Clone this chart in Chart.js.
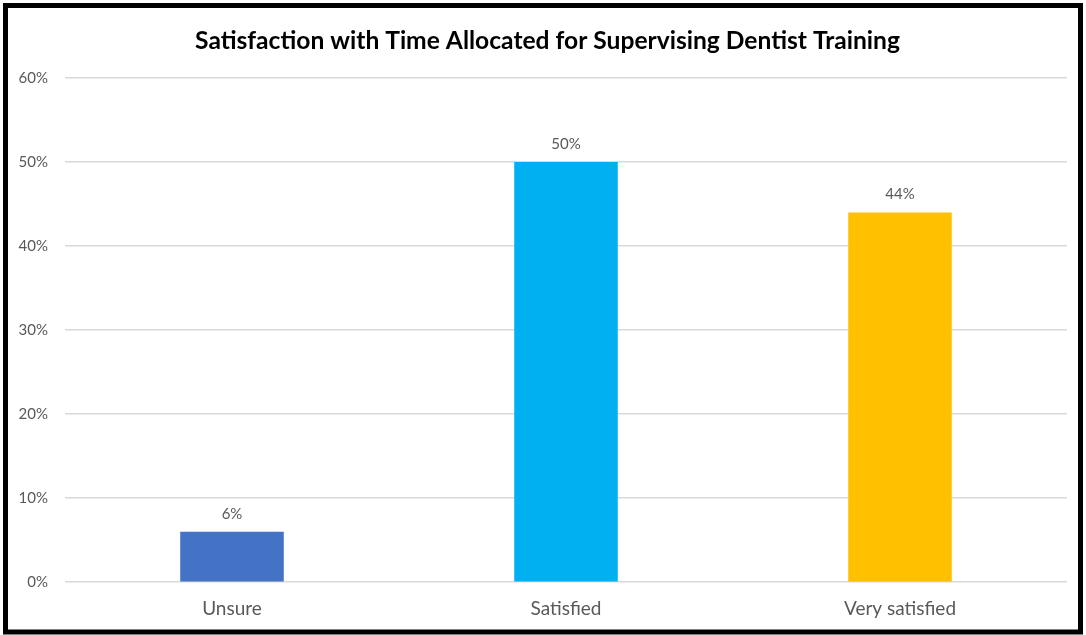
<!DOCTYPE html>
<html>
<head>
<meta charset="utf-8">
<script src="https://cdn.jsdelivr.net/npm/chart.js@4"></script>
<style>
  html, body { margin: 0; padding: 0; background: #fff; }
  #wrap { position: relative; width: 1086px; height: 635px; }
</style>
</head>
<body>
<div id="wrap"><canvas id="chart" width="1086" height="635"></canvas></div>
<script>
const categories = ['Unsure', 'Satisfied', 'Very satisfied'];
const shares = [6, 50, 44];
const barColors = ['#4472C4', '#00B0F0', '#FFC000'];
const yTicks = [0, 10, 20, 30, 40, 50, 60];
const chartTitle = 'Satisfaction with Time Allocated for Supervising Dentist Training';

const FONT = 'Lato, "Open Sans", "Liberation Sans", sans-serif';

// white background, heading, and black frame around the whole figure
const framePlugin = {
  id: 'frame',
  beforeDraw(chart) {
    const c = chart.ctx;
    c.save();
    c.fillStyle = '#fff';
    c.fillRect(0, 0, chart.width, chart.height);
    c.restore();
  },
  afterDraw(chart) {
    const c = chart.ctx;
    c.save();
    c.font = 'bold 24.6px ' + FONT;
    c.fillStyle = '#000';
    c.textAlign = 'center';
    c.textBaseline = 'middle';
    c.fillText(chartTitle, 547.5, 41);
    c.strokeStyle = '#000';
    c.lineWidth = 5;
    c.strokeRect(5.5, 5.5, chart.width - 11, chart.height - 8.5);
    c.restore();
  }
};

// value labels above each bar
const valueLabels = {
  id: 'valueLabels',
  afterDatasetsDraw(chart) {
    const c = chart.ctx;
    const meta = chart.getDatasetMeta(0);
    c.save();
    c.font = '15px ' + FONT;
    c.fillStyle = '#595959';
    c.textAlign = 'center';
    c.textBaseline = 'middle';
    meta.data.forEach((bar, i) => {
      c.fillText(shares[i] + '%', bar.x, bar.y - 18);
    });
    c.restore();
  }
};

new Chart(document.getElementById('chart'), {
  type: 'bar',
  data: {
    labels: categories,
    datasets: [{
      data: shares,
      backgroundColor: barColors,
      borderWidth: 0,
      categoryPercentage: 1,
      barPercentage: 0.31
    }]
  },
  options: {
    responsive: false,
    animation: false,
    devicePixelRatio: 1,
    layout: { padding: { top: 78, right: 19, bottom: 0, left: 0 } },
    plugins: {
      legend: { display: false },
      tooltip: { enabled: false },
      title: { display: false }
    },
    scales: {
      x: {
        grid: { display: false, drawTicks: false },
        border: { display: false },
        ticks: {
          color: '#595959',
          padding: 15,
          font: { family: FONT, size: 19, lineHeight: 1.2 }
        }
      },
      y: {
        min: 0,
        max: 60,
        afterFit(scale) { scale.width = 65; },
        afterBuildTicks(scale) { scale.ticks = yTicks.map(v => ({ value: v })); },
        grid: { color: '#d9d9d9', lineWidth: 1.5, drawTicks: false },
        border: { display: false },
        ticks: {
          color: '#595959',
          padding: 17,
          font: { family: FONT, size: 15 },
          callback: v => v + '%'
        }
      }
    }
  },
  plugins: [framePlugin, valueLabels]
});
</script>
</body>
</html>
